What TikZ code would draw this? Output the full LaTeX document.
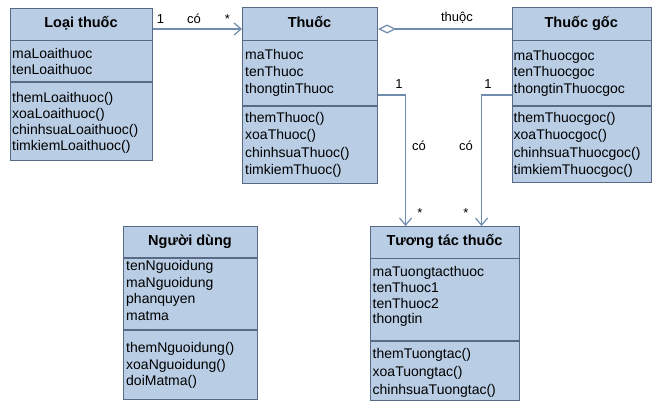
\documentclass[tikz,border=0pt]{standalone}
\usepackage{fontspec}
\setmainfont{Liberation Sans}
\usetikzlibrary{arrows.meta}

\definecolor{boxfill}{RGB}{185,205,229}
\definecolor{boxline}{RGB}{88,106,134}
\definecolor{linkcol}{RGB}{112,140,174}

\tikzset{
  classbox/.style={draw=boxline, fill=boxfill, line width=1.1pt, anchor=north west, inner sep=0pt},
  divider/.style={draw=boxline, line width=1.1pt},
  classtitle/.style={font=\fontsize{14.5}{16}\selectfont\bfseries, inner sep=0pt, text height=10.5pt, text depth=3pt},
  member/.style={font=\fontsize{14}{16}\selectfont, anchor=west, inner sep=0pt, text height=10pt, text depth=3pt},
  link/.style={draw=linkcol, line width=1.2pt},
  navarrow/.style={-{Straight Barb[length=7pt,width=12pt]}},
  linklabel/.style={font=\fontsize{13}{15}\selectfont, inner sep=0pt}
}

\begin{document}
\begin{tikzpicture}[x=1pt,y=-1pt]
\useasboundingbox[fill=white] (0,0) rectangle (653,402);

% ---------- Loại thuốc ----------
\node[classbox, minimum width=142pt, minimum height=152pt] (loai) at (10,8) {};
\draw[divider] (10,40.5) -- (152,40.5);
\draw[divider] (10,82) -- (152,82);
\node[classtitle] (loai-t) at (81,23.5) {Loại thuốc};
\foreach \t [count=\i] in {maLoaithuoc,tenLoaithuoc}
  \node[member] (loai-a\i) at (12,{55+(\i-1)*16}) {\t};
\foreach \t [count=\i] in {themLoaithuoc(),xoaLoaithuoc(),chinhsuaLoaithuoc(),timkiemLoaithuoc()}
  \node[member] (loai-m\i) at (12,{99+(\i-1)*16}) {\t};

% ---------- Thuốc ----------
\node[classbox, minimum width=135pt, minimum height=176pt] (thuoc) at (242,7) {};
\draw[divider] (242,40.5) -- (377,40.5);
\draw[divider] (242,106) -- (377,106);
\node[classtitle] (thuoc-t) at (309.5,23.5) {Thuốc};
\foreach \t [count=\i] in {maThuoc,tenThuoc,thongtinThuoc}
  \node[member] (thuoc-a\i) at (245,{56+(\i-1)*16.8}) {\t};
\foreach \t [count=\i] in {themThuoc(),xoaThuoc(),chinhsuaThuoc(),timkiemThuoc()}
  \node[member] (thuoc-m\i) at (245,{118.5+(\i-1)*17.5}) {\t};

% ---------- Thuốc gốc ----------
\node[classbox, minimum width=139.5pt, minimum height=175pt] (goc) at (511.5,7) {};
\draw[divider] (511.5,40.5) -- (651,40.5);
\draw[divider] (511.5,106) -- (651,106);
\node[classtitle] (goc-t) at (581.25,23.5) {Thuốc gốc};
\foreach \t [count=\i] in {maThuocgoc,tenThuocgoc,thongtinThuocgoc}
  \node[member] (goc-a\i) at (513.5,{56.5+(\i-1)*16.5}) {\t};
\foreach \t [count=\i] in {themThuocgoc(),xoaThuocgoc(),chinhsuaThuocgoc(),timkiemThuocgoc()}
  \node[member] (goc-m\i) at (513.5,{118.5+(\i-1)*17.5}) {\t};

% ---------- Người dùng ----------
\node[classbox, minimum width=134pt, minimum height=173pt] (user) at (123,226) {};
\draw[divider] (123,258) -- (257,258);
\draw[divider] (123,330) -- (257,330);
\node[classtitle] (user-t) at (190,242) {Người dùng};
\foreach \t [count=\i] in {tenNguoidung,maNguoidung,phanquyen,matma}
  \node[member] (user-a\i) at (126,{267+(\i-1)*16.6}) {\t};
\foreach \t [count=\i] in {themNguoidung(),xoaNguoidung(),doiMatma()}
  \node[member] (user-m\i) at (126,{349+(\i-1)*16.5}) {\t};

% ---------- Tương tác thuốc ----------
\node[classbox, minimum width=149pt, minimum height=174pt] (tuong) at (370,226) {};
\draw[divider] (370,258.5) -- (519,258.5);
\draw[divider] (370,341) -- (519,341);
\node[classtitle] (tuong-t) at (444.5,242) {Tương tác thuốc};
\foreach \t [count=\i] in {maTuongtacthuoc,tenThuoc1,tenThuoc2,thongtin}
  \node[member] (tuong-a\i) at (372.5,{273+(\i-1)*15.8}) {\t};
\foreach \t [count=\i] in {themTuongtac(),xoaTuongtac(),chinhsuaTuongtac()}
  \node[member] (tuong-m\i) at (372.5,{354.5+(\i-1)*18.3}) {\t};

% ---------- Connectors ----------
% Loại thuốc 1 -- có -- * Thuốc
\draw[link, navarrow] ([yshift=-21pt]loai.north east) -- ([yshift=-22pt]thuoc.north west);
\node[linklabel] (l1a) at (160.5,19) {1};
\node[linklabel] (l1b) at (194,19) {có};
\node[linklabel] (l1c) at (227.5,19) {*};

% Thuốc <>-- Thuốc gốc (aggregation)
\draw[link, {Diamond[open,length=18pt,width=9pt]}-] ([yshift=-22pt]thuoc.north east) -- ([yshift=-22pt]goc.north west);
\node[linklabel] (l2) at (457,18) {thuộc};

% Thuốc 1 -- có -- * Tương tác thuốc
\draw[link, navarrow] ([yshift=-88pt]thuoc.north east) -| ([xshift=-39.5pt]tuong.north);
\node[linklabel] (l3a) at (399,84) {1};
\node[linklabel] (l3b) at (419,146) {có};
\node[linklabel] (l3c) at (420,213) {*};

% Thuốc gốc 1 -- có -- * Tương tác thuốc
\draw[link, navarrow] ([yshift=-88pt]goc.north west) -| ([xshift=36.5pt]tuong.north);
\node[linklabel] (l4a) at (488,84) {1};
\node[linklabel] (l4b) at (466,146) {có};
\node[linklabel] (l4c) at (466,213) {*};

\end{tikzpicture}
\end{document}
